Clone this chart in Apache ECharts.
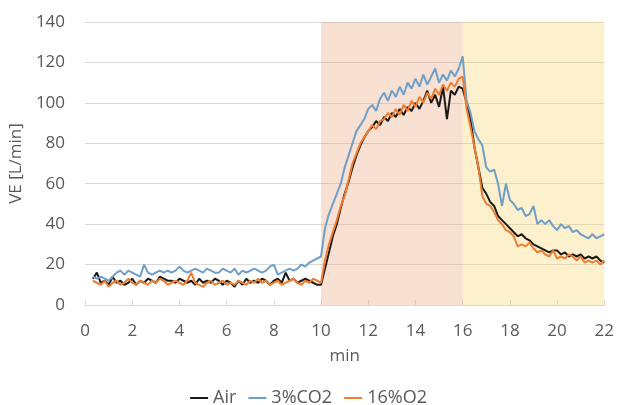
<!DOCTYPE html>
<html><head><meta charset="utf-8">
<script src="https://cdn.jsdelivr.net/npm/echarts@6/dist/echarts.min.js"></script>
<style>html,body{margin:0;padding:0;background:#fff}#c{width:617px;height:405px}</style>
</head><body><div id="c"></div>
<script>
// sampling: one value every 10 s, first sample at 1/3 min
const sampleStartMin = 2/6;
const sampleStepMin = 1/6;
const xTicks = [0,2,4,6,8,10,12,14,16,18,20,22];
const yTicks = [0,20,40,60,80,100,120,140];
const seriesNames = ['Air','3%CO2','16%O2'];
const phases = [[10,16],[16,22]];

const air = [13,16,11,12,10,14,11,12,10,11, 13,10,12,11,13,12,11,14,13,12, 12,11,13,12,11,12,10,13,11,12, 11,13,12,10,12,11,9,12,10,13,
 11,12,11,13,12,10,12,13,11,16, 12,13,11,12,13,12,11,10,
 10,18,26,34,40,48,55,61,68,74,79,83,86,88,91,89,
 93,91,95,93,97,94,98,96,100,97,101,106,100,104,98,108,92,106,104,108,
 107,
 100,92,78,68,58,55,51,49,44,42, 40,38,36,34,35,33,32,30,29,28, 27,26,27,27,25,26,24,25,24,25, 23,24,23,24,22,21];

const co2 = [14,13,14,13,12,14,16,17,15,17, 16,15,14,20,16,15,16,17,16,17, 16,17,19,17,16,17,18,17,16,18, 17,16,16,18,17,16,18,15,17,16,
 17,18,17,16,17,19,20,15,16,17, 18,17,18,20,19,21,22,23,
 24,38,45,50,55,60,68,74,80,86,89,92,97,99,96,102,
 105,101,106,103,108,104,110,107,112,108,114,109,113,117,110,114,111,116,113,117,
 123,
 101,95,86,82,79,68,66,67,60,49, 60,52,50,47,48,44,45,49,40,42, 40,42,39,37,40,38,39,36,37,35, 34,33,35,33,34,35];

const o2 = [12,11,10,12,9,11,12,10,11,13, 11,10,12,11,10,12,11,13,12,10, 11,12,11,10,12,16,11,10,9,11, 12,10,11,12,10,11,10,12,11,10,
 12,11,13,11,12,10,11,12,10,11, 12,13,11,10,12,11,13,12,
 11,22,30,36,42,49,54,62,70,75,80,83,86,89,87,91,
 92,95,93,97,94,99,96,101,98,103,100,105,102,107,104,109,106,110,108,112,
 113,
 97,88,78,68,54,50,49,46,42,40, 37,36,34,29,30,29,31,28,26,27, 25,24,27,23,24,23,25,24,22,24, 21,22,21,22,20,22];

const toPairs = arr => arr.map((v,i)=>[sampleStartMin + i*sampleStepMin, v]);
const colors = ['#1c1a17','#6f9fc8','#ed7d31'];
const font = "'Open Sans', 'Liberation Sans', sans-serif";
const chart = echarts.init(document.getElementById('c'));
chart.setOption({
  animation:false,
  backgroundColor:'#fff',
  grid:{left:84,right:11,top:22,bottom:100},
  legend:{top:384,left:'center',icon:'rect',itemWidth:18,itemHeight:2,itemGap:12,
    data:seriesNames,textStyle:{color:'#595959',fontSize:18,fontFamily:font}},
  xAxis:{type:'value',min:xTicks[0],max:xTicks[xTicks.length-1],interval:2,
    name:'min',nameLocation:'middle',nameGap:43,nameTextStyle:{color:'#595959',fontSize:17,fontFamily:font},
    axisLine:{lineStyle:{color:'#d9d9d9',width:1}},
    axisTick:{show:true,inside:true,length:5,lineStyle:{color:'#d9d9d9'}},
    axisLabel:{color:'#595959',fontSize:17,fontFamily:font,margin:18},
    splitLine:{show:false}},
  yAxis:{type:'value',min:yTicks[0],max:yTicks[yTicks.length-1],interval:20,
    name:'VE [L/min]',nameLocation:'middle',nameGap:54,nameTextStyle:{color:'#595959',fontSize:17,fontFamily:font},
    axisLine:{show:false},axisTick:{show:false},
    axisLabel:{color:'#595959',fontSize:17,fontFamily:font,margin:20},
    splitLine:{lineStyle:{color:'#d9d9d9',width:1}}},
  series:[
    {name:seriesNames[0],type:'line',data:toPairs(air),showSymbol:false,lineStyle:{width:2,color:colors[0]},itemStyle:{color:colors[0]},
     markArea:{silent:true,data:[
       [{xAxis:phases[0][0],itemStyle:{color:'rgba(232,152,105,0.3)'}},{xAxis:phases[0][1]}],
       [{xAxis:phases[1][0],itemStyle:{color:'rgba(248,205,88,0.3)'}},{xAxis:phases[1][1]}]
     ]}},
    {name:seriesNames[1],type:'line',data:toPairs(co2),showSymbol:false,lineStyle:{width:2,color:colors[1]},itemStyle:{color:colors[1]}},
    {name:seriesNames[2],type:'line',data:toPairs(o2),showSymbol:false,lineStyle:{width:2,color:colors[2]},itemStyle:{color:colors[2]}}
  ]
});
</script></body></html>
